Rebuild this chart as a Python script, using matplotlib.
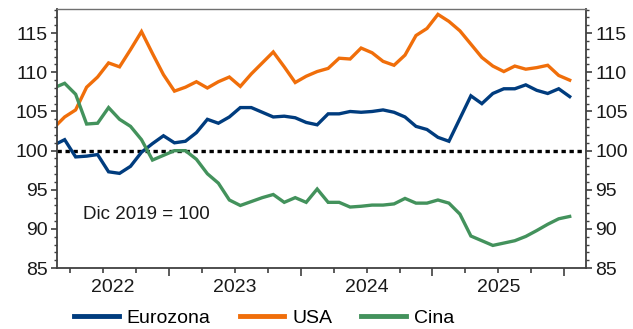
import matplotlib
matplotlib.use("Agg")
import matplotlib.pyplot as plt
import numpy as np
from matplotlib.ticker import MultipleLocator, FixedLocator, NullFormatter

plt.rcParams['font.family'] = ['Liberation Sans', 'DejaVu Sans']

# Monthly data, Feb 2022 .. Jan 2026 (index 100 = Dec 2019)
months = [f"{y}-{m:02d}" for y in range(2022, 2027) for m in range(1, 13)][1:49]

eurozona = [100.7, 101.4, 99.2, 99.3, 99.5, 97.3, 97.1, 98.0, 99.8, 100.9, 101.9, 101.0,
            101.2, 102.3, 104.0, 103.5, 104.3, 105.5, 105.5, 104.9, 104.3, 104.4, 104.2, 103.6,
            103.3, 104.7, 104.7, 105.0, 104.9, 105.0, 105.2, 104.9, 104.3, 103.1, 102.7, 101.7,
            101.2, 104.1, 107.0, 106.0, 107.3, 107.9, 107.9, 108.4, 107.7, 107.3, 107.9, 106.9]
usa = [102.9, 104.3, 105.2, 108.1, 109.4, 111.2, 110.7, 112.9, 115.2, 112.4, 109.7, 107.6,
       108.1, 108.8, 108.0, 108.8, 109.4, 108.2, 109.8, 111.2, 112.6, 110.7, 108.7, 109.5,
       110.1, 110.5, 111.8, 111.7, 113.1, 112.5, 111.4, 110.9, 112.2, 114.7, 115.6, 117.4,
       116.5, 115.3, 113.6, 111.9, 110.8, 110.1, 110.8, 110.4, 110.6, 110.9, 109.6, 109.0]
cina = [108.0, 108.6, 107.2, 103.4, 103.5, 105.5, 104.0, 103.1, 101.4, 98.8, 99.4, 100.0,
        100.0, 98.9, 97.05, 95.85, 93.7, 93.0, 93.5, 94.0, 94.4, 93.4, 94.0, 93.4,
        95.1, 93.4, 93.4, 92.8, 92.9, 93.05, 93.05, 93.2, 93.9, 93.3, 93.3, 93.7,
        93.3, 91.9, 89.1, 88.5, 87.9, 88.2, 88.5, 89.05, 89.8, 90.6, 91.3, 91.6]
series_names = ["Eurozona", "USA", "Cina"]
colors = ["#003C7E", "#F06E0A", "#43925C"]
year_labels = ["2022", "2023", "2024", "2025"]
yticks = [85, 90, 95, 100, 105, 110, 115]

# month position (months since Jan 2022, at mid-month)
t = np.array([(int(m[:4]) - 2022) * 12 + int(m[5:]) - 1 + 0.5 for m in months])

FS = 14

fig = plt.figure(figsize=(6.33, 3.29), dpi=100)
ax = fig.add_axes([0.090, 0.185, 0.836, 0.788])

for vals, name, c in zip([eurozona, usa, cina], series_names, colors):
    ax.plot(t, vals, color=c, lw=2.4, label=name, solid_joinstyle='miter')

ax.axhline(100, color='black', lw=2.4, linestyle=(0, (1.3, 1.1)), zorder=1)

xmin, xmax = 1.8, 50.0
ax.set_xlim(xmin, xmax)
ax.set_ylim(85, 118.1)

# x ticks: year boundaries (major, long) and quarters (minor)
ax.xaxis.set_major_locator(FixedLocator([12, 24, 36, 48]))
ax.xaxis.set_minor_locator(FixedLocator([q for q in range(3, 50, 3) if q % 12 != 0]))
ax.xaxis.set_major_formatter(NullFormatter())
ax.tick_params(axis='x', which='major', length=6, width=1.2, color='#404040', direction='out')
ax.tick_params(axis='x', which='minor', length=3.5, width=1.2, color='#404040', direction='out')

for i, lab in enumerate(year_labels):
    a = max(i * 12, xmin)
    b = min((i + 1) * 12, xmax)
    ax.text((a + b) / 2, -0.04, lab, transform=ax.get_xaxis_transform(),
            ha='center', va='top', fontsize=FS, color='#1a1a1a')

# y ticks both sides
ax.set_yticks(yticks)
ax.yaxis.set_minor_locator(MultipleLocator(1))
ax.tick_params(axis='y', which='both', left=True, right=True, labelleft=True, labelright=True,
               direction='out', color='#404040', labelsize=FS, labelcolor='#1a1a1a')
ax.tick_params(axis='y', which='major', length=4.5, width=1.2, pad=2)
ax.tick_params(axis='y', which='minor', length=2.5, width=1.0)

for s in ['left', 'right', 'bottom']:
    ax.spines[s].set_color('#404040')
    ax.spines[s].set_linewidth(1.3)
ax.spines['top'].set_color('#707070')
ax.spines['top'].set_linewidth(1.0)

ax.text(4.2, 91.8, "Dic 2019 = 100", fontsize=13.5, va='center', ha='left', color='#1a1a1a')

leg = fig.legend(loc='center', bbox_to_anchor=(0.417, 0.033), ncol=3, frameon=False,
                 fontsize=FS, handlelength=2.3, columnspacing=1.5, handletextpad=0.4)
for line in leg.get_lines():
    line.set_linewidth(3.5)

fig.savefig("out.png", dpi=100)
